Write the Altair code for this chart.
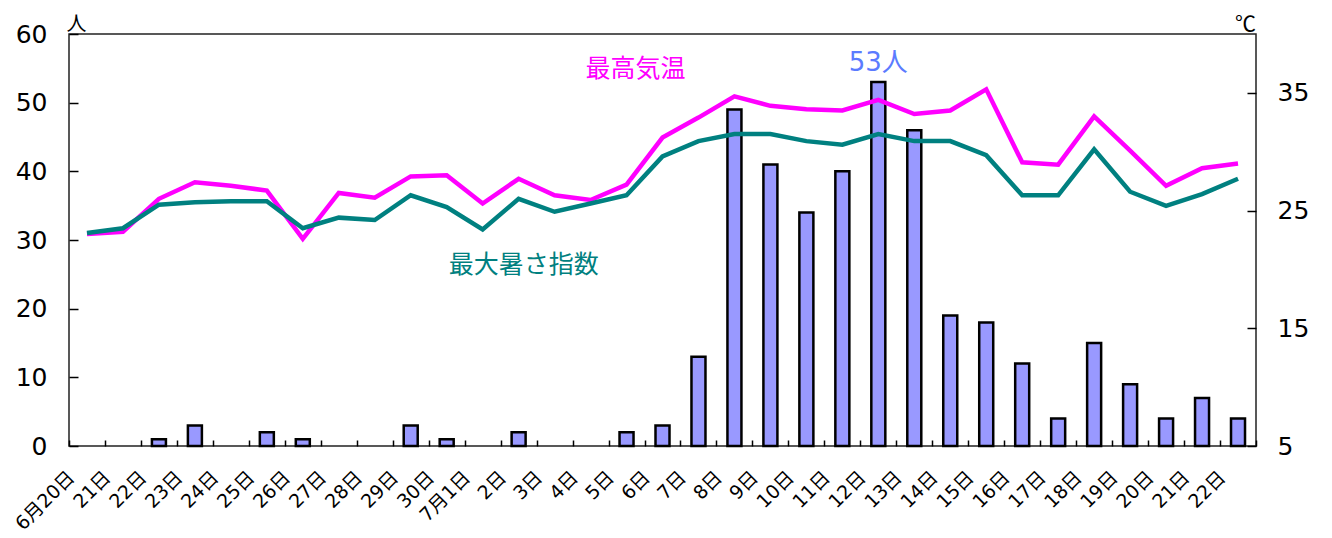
import json
import altair as alt
import pandas as pd

# ---- data ----
date_keys = ["6/20", "6/21", "6/22", "6/23", "6/24", "6/25", "6/26", "6/27", "6/28", "6/29", "6/30",
             "7/1", "7/2", "7/3", "7/4", "7/5", "7/6", "7/7", "7/8", "7/9", "7/10", "7/11",
             "7/12", "7/13", "7/14", "7/15", "7/16", "7/17", "7/18", "7/19", "7/20", "7/21", "7/22"]
tick_labels = ["6月20日", "21日", "22日", "23日", "24日", "25日", "26日", "27日", "28日", "29日", "30日",
               "7月1日", "2日", "3日", "4日", "5日", "6日", "7日", "8日", "9日", "10日", "11日",
               "12日", "13日", "14日", "15日", "16日", "17日", "18日", "19日", "20日", "21日", "22日"]
people = [0, 0, 1, 3, 0, 2, 1, 0, 0, 3, 1,
          0, 2, 0, 0, 2, 3, 13, 49, 41, 34, 40,
          53, 46, 19, 18, 12, 4, 15, 9, 4, 7, 4]
max_temp = [23.0, 23.2, 26.0, 27.4, 27.1, 26.7, 22.6, 26.5, 26.1, 27.9, 28.0,
            25.6, 27.7, 26.3, 25.9, 27.2, 31.2, 32.9, 34.7, 33.9, 33.6, 33.5,
            34.4, 33.2, 33.5, 35.3, 29.1, 28.9, 33.0, 30.1, 27.1, 28.6, 29.0]
max_wbgt = [23.1, 23.5, 25.5, 25.7, 25.8, 25.8, 23.5, 24.4, 24.2, 26.3, 25.3,
            23.4, 26.0, 24.9, 25.6, 26.3, 29.6, 30.9, 31.5, 31.5, 30.9, 30.6,
            31.5, 30.9, 30.9, 29.7, 26.3, 26.3, 30.2, 26.6, 25.4, 26.4, 27.7]

series_names = ["最高気温", "最大暑さ指数"]
series_colors = ["#FF00FF", "#008080"]
# series label anchors (category, value on the °C scale, pixel nudge from the band start)
label_dates = ["7/5", "7/2"]
label_values = [37.0, 20.4]
label_dx = [27, 23]

left_ticks = [0, 10, 20, 30, 40, 50, 60]
right_ticks = [5, 15, 25, 35]

# ---- tables ----
bar_df = pd.DataFrame({"date": date_keys, "people": people})
peak_i = people.index(max(people))
peak_df = pd.DataFrame({"date": [date_keys[peak_i]], "people": [people[peak_i]],
                        "text": [f"{people[peak_i]}人"]})
line_df = pd.concat([
    pd.DataFrame({"date": date_keys, "value": max_temp, "series": series_names[0]}),
    pd.DataFrame({"date": date_keys, "value": max_wbgt, "series": series_names[1]}),
])
lab_df = pd.DataFrame({"date": label_dates, "value": label_values, "series": series_names, "dx": label_dx})

JP = "Noto Sans CJK JP"
NUM = "DejaVu Sans, Noto Sans CJK JP"

label_expr = (f"{json.dumps(tick_labels, ensure_ascii=False)}"
              f"[indexof({json.dumps(date_keys)}, datum.value)]")

x_enc = alt.X(
    "date:N", sort=date_keys,
    scale=alt.Scale(paddingInner=0, paddingOuter=0),
    axis=alt.Axis(
        title=None, labelAngle=-45, labelAlign="right", labelBaseline="middle",
        labelOffset=-16, labelPadding=28, labelFontSize=19, labelFont=NUM,
        labelColor="black", labelExpr=label_expr, labelOverlap=False,
        tickBand="extent", tickSize=6, offset=-6, domain=False,
        tickColor="black", tickWidth=1.5,
    ),
)

y_left = alt.Y(
    "people:Q",
    scale=alt.Scale(domain=[0, 60], nice=False),
    axis=alt.Axis(
        title="人", titleAngle=0, titleX=-2, titleY=-10, titleAlign="center",
        titleBaseline="middle", titleFontSize=20, titleFont=JP, titleFontWeight="normal",
        titleColor="black",
        values=left_ticks, labelFontSize=25, labelFont="DejaVu Sans", labelColor="black",
        labelPadding=22, tickSize=9, offset=-9, domain=False, grid=False,
        tickColor="black", tickWidth=1.5,
    ),
)

y_right = alt.Y(
    "value:Q",
    scale=alt.Scale(domain=[5, 40], nice=False),
    axis=alt.Axis(
        orient="right",
        title="℃", titleAngle=0, titleX=-2, titleY=-10, titleAlign="center",
        titleBaseline="middle", titleFontSize=21, titleFont=JP, titleFontWeight="normal",
        titleColor="black",
        values=right_ticks, labelFontSize=25, labelFont="DejaVu Sans", labelColor="black",
        labelPadding=21, tickSize=9, offset=-9, domain=False, grid=False,
        tickColor="black", tickWidth=1.5,
    ),
)

color_enc = alt.Color("series:N", scale=alt.Scale(domain=series_names, range=series_colors), legend=None)

bars = alt.Chart(bar_df).transform_filter("datum.people > 0").mark_bar(
    width=14, color="#9999FF", stroke="black", strokeWidth=2.5
).encode(x=x_enc, y=y_left)

peak_text = alt.Chart(peak_df).mark_text(
    dy=-19, fontSize=26, font=NUM, color="#5B7BFF"
).encode(x=x_enc, y=y_left, text="text:N")

bar_group = alt.layer(bars, peak_text)

lines = alt.Chart(line_df).mark_line(strokeWidth=4.5).encode(
    x=x_enc, y=y_right, color=color_enc, detail="series:N"
)

line_labels = alt.Chart(lab_df).mark_text(fontSize=25, font=JP).encode(
    x=x_enc, y=y_right, color=color_enc, text="series:N", xOffset=alt.XOffset("dx:Q", scale=None)
)

line_group = alt.layer(lines, line_labels)

chart = alt.layer(bar_group, line_group).resolve_scale(
    y="independent", color="independent"
).properties(
    width=1187, height=412,
    autosize=alt.AutoSizeParams(type="none"),
    padding={"left": 61, "top": 26, "right": 60, "bottom": 90},
    background="white",
).configure_view(stroke="#222222", strokeWidth=1.5)

chart.save("out.html", embed_options={"renderer": "svg", "actions": False})
